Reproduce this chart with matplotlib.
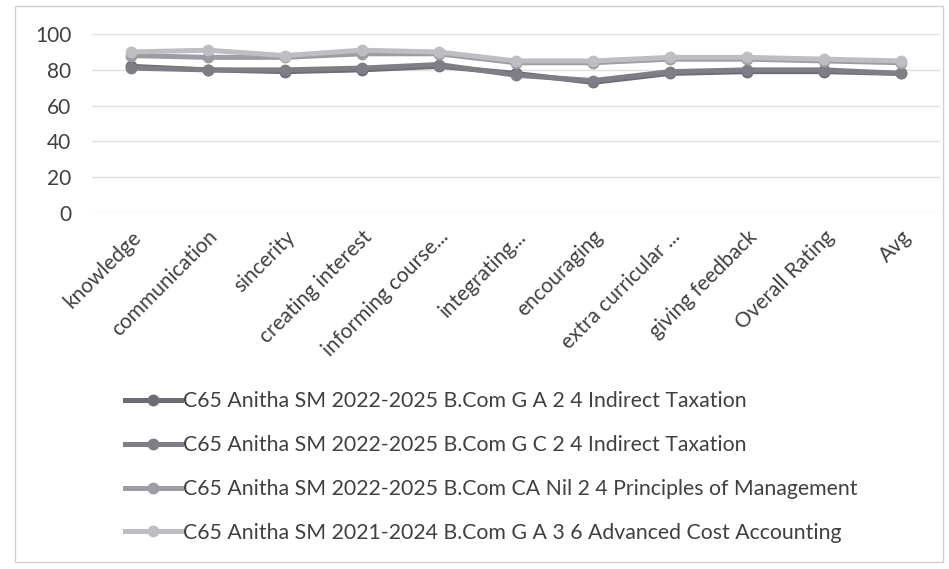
import matplotlib.pyplot as plt
from matplotlib.patches import Rectangle

categories = ['knowledge', 'communication', 'sincerity', 'creating interest',
              'informing course...', 'integrating...', 'encouraging',
              'extra curricular ...', 'giving feedback', 'Overall Rating', 'Avg']

series_names = [
    'C65 Anitha SM 2022-2025 B.Com G A 2 4 Indirect Taxation',
    'C65 Anitha SM 2022-2025 B.Com G C 2 4 Indirect Taxation',
    'C65 Anitha SM 2022-2025 B.Com CA Nil 2 4 Principles of Management',
    'C65 Anitha SM 2021-2024 B.Com G A 3 6 Advanced Cost Accounting',
]
ga_tax = [82, 80, 79, 80, 82, 78, 73, 78, 79, 79, 78]
gc_tax = [81, 80, 80, 81, 83, 77, 74, 79, 80, 80, 78]
ca_mgmt = [88, 87, 87, 89, 89, 84, 84, 86, 86, 85, 84]
cost_acc = [90, 91, 88, 91, 90, 85, 85, 87, 87, 86, 85]
values = [ga_tax, gc_tax, ca_mgmt, cost_acc]

colors = ['#6c6c74', '#7e7e86', '#9c9ca2', '#bdbdc2']

plt.rcParams['font.family'] = ['Lato', 'DejaVu Sans']

fig = plt.figure(figsize=(9.49, 5.69), dpi=100)
fig.patches.append(Rectangle((0.016, 0.012), 0.978, 0.978, transform=fig.transFigure,
                             fill=False, edgecolor='#d0d0d0', linewidth=1))
ax = fig.add_axes([0.097, 0.626, 0.893, 0.314])

x = range(len(categories))
for name, vals, c in zip(series_names, values, colors):
    ax.plot(x, vals, color=c, linewidth=3.6, marker='o', markersize=7.5,
            markerfacecolor=c, markeredgecolor=c, label=name)

ax.set_xlim(-0.5, len(categories) - 0.5)
ax.set_ylim(0, 100)
ax.set_yticks(range(0, 101, 20))
ax.yaxis.grid(True, color='#e0e0e0', linewidth=1)
ax.set_axisbelow(True)
for s in ax.spines.values():
    s.set_visible(False)
ax.tick_params(length=0, labelsize=15, colors='#404040')
ax.tick_params(axis='y', pad=15)
ax.tick_params(axis='x', pad=10)
ax.set_xticks(list(x))
ax.set_xticklabels(categories, rotation=45, ha='right', rotation_mode='anchor',
                   fontsize=15, color='#404040')

leg = fig.legend(loc='upper left', bbox_to_anchor=(0.132, 0.312), ncol=1,
                 frameon=False, fontsize=15.3, handlelength=2.6,
                 labelspacing=1.12, handletextpad=0.1, borderaxespad=0,
                 borderpad=0)
for t in leg.get_texts():
    t.set_color('#404040')

fig.savefig('out.png', dpi=100)
